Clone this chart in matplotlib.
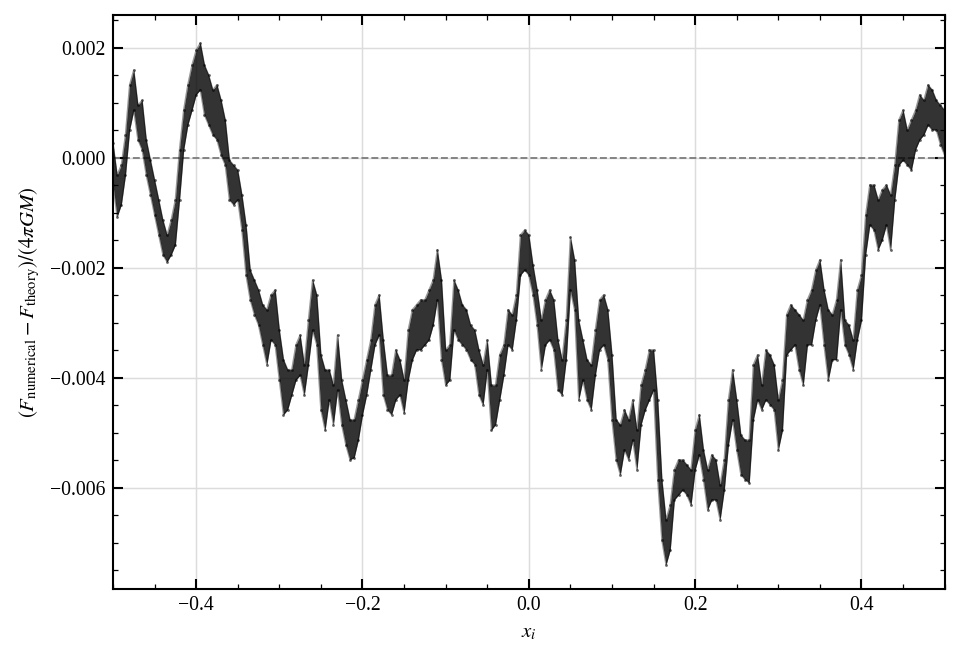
import numpy as np
import matplotlib
matplotlib.use("Agg")
import matplotlib.pyplot as plt
from matplotlib.ticker import MultipleLocator, AutoMinorLocator

# sample positions along x_i (every 0.005) and the band of the residual read off
# the picture at each position, in units of 1e-3
x_pos = np.round(np.arange(-0.5, 0.50001, 0.005), 3)

res_hi_milli = [
    0.27, -0.31, -0.13, 0.42, 1.33, 1.60, 0.96, 1.05, 0.33, -0.04,
    -0.40, -0.76, -1.13, -1.40, -1.13, -0.76, 0.15, 0.87, 1.33, 1.69,
    1.96, 2.09, 1.69, 1.51, 1.24, 1.33, 1.05, 0.69, -0.04, -0.13,
    -0.22, -0.67, -1.22, -2.04, -2.22, -2.40, -2.67, -2.76, -2.49, -2.40,
    -3.13, -3.67, -3.85, -3.85, -3.40, -3.22, -3.76, -2.95, -2.22, -2.49,
    -3.58, -3.85, -3.85, -4.13, -3.22, -4.04, -4.40, -4.76, -4.76, -4.40,
    -4.04, -3.67, -3.31, -2.67, -2.49, -3.31, -3.95, -3.95, -3.49, -3.67,
    -4.04, -3.13, -2.76, -2.67, -2.58, -2.58, -2.40, -2.22, -1.67, -2.22,
    -3.49, -3.40, -2.22, -2.40, -2.67, -2.76, -3.04, -3.13, -3.49, -3.76,
    -3.31, -4.13, -4.13, -3.58, -3.40, -2.76, -2.85, -2.49, -1.40, -1.31,
    -1.40, -1.95, -2.40, -2.95, -2.58, -2.40, -2.58, -3.31, -3.67, -2.95,
    -1.44, -1.85, -2.95, -3.31, -3.67, -3.76, -3.13, -2.58, -2.49, -2.76,
    -3.58, -4.76, -4.85, -4.58, -4.76, -4.40, -4.95, -4.13, -3.85, -3.49,
    -3.49, -4.40, -5.85, -6.58, -6.31, -5.67, -5.49, -5.49, -5.58, -5.67,
    -4.95, -4.67, -5.31, -5.67, -5.40, -5.49, -5.95, -5.49, -4.40, -3.85,
    -4.40, -5.04, -5.13, -5.13, -3.76, -3.58, -4.13, -3.49, -3.58, -3.76,
    -4.40, -4.04, -2.85, -2.67, -2.76, -2.85, -2.95, -2.58, -2.40, -2.04,
    -1.85, -2.40, -2.76, -2.85, -2.58, -1.85, -2.95, -3.04, -3.31, -2.40,
    -2.13, -1.04, -0.49, -0.49, -0.76, -0.58, -0.49, -0.67, -0.13, 0.69,
    0.87, 0.51, 0.69, 0.87, 1.15, 1.05, 1.33, 1.24, 1.05, 0.96,
    0.87,
]

res_lo_milli = [
    -0.49, -1.07, -0.85, -0.31, 0.51, 0.87, 0.33, 0.15, -0.31, -0.67,
    -1.04, -1.40, -1.76, -1.89, -1.76, -1.58, -0.76, 0.15, 0.60, 0.87,
    1.15, 1.24, 0.78, 0.60, 0.42, 0.33, 0.05, -0.13, -0.76, -0.85,
    -0.76, -1.31, -2.13, -2.58, -2.85, -3.04, -3.40, -3.76, -3.31, -3.40,
    -4.04, -4.67, -4.58, -4.31, -4.04, -3.95, -4.31, -3.76, -3.13, -3.40,
    -4.58, -4.95, -4.40, -4.85, -4.22, -4.85, -5.22, -5.49, -5.45, -5.13,
    -4.67, -4.31, -3.85, -3.40, -3.22, -4.31, -4.58, -4.67, -4.40, -4.31,
    -4.64, -4.04, -3.67, -3.49, -3.49, -3.40, -3.31, -3.04, -2.58, -3.67,
    -4.13, -4.04, -3.13, -3.31, -3.40, -3.49, -3.67, -3.76, -4.31, -4.49,
    -3.85, -4.95, -4.85, -4.40, -3.95, -3.40, -3.49, -2.95, -2.13, -2.04,
    -2.13, -2.49, -3.04, -3.85, -3.40, -3.31, -3.49, -4.22, -4.31, -3.67,
    -2.40, -2.76, -4.40, -4.04, -4.40, -4.58, -3.95, -3.49, -3.40, -3.67,
    -4.76, -5.49, -5.76, -5.31, -5.49, -5.13, -5.67, -4.85, -4.58, -4.40,
    -4.22, -5.85, -6.95, -7.40, -7.13, -6.22, -6.13, -6.04, -6.13, -6.31,
    -5.67, -5.40, -5.85, -6.40, -6.22, -6.22, -6.58, -6.04, -5.22, -4.76,
    -5.31, -5.76, -5.85, -5.91, -4.76, -4.40, -4.58, -4.40, -4.49, -4.58,
    -5.31, -4.95, -3.58, -3.49, -3.40, -3.85, -4.13, -3.40, -3.40, -2.95,
    -2.67, -3.40, -4.04, -3.67, -3.67, -2.76, -3.40, -3.58, -3.85, -3.31,
    -2.95, -1.76, -1.22, -1.31, -1.67, -1.49, -1.22, -1.67, -0.76, -0.13,
    -0.04, -0.13, -0.22, 0.15, 0.33, 0.42, 0.60, 0.51, 0.51, 0.24,
    0.05,
]

res_hi = np.array(res_hi_milli) * 1e-3
res_lo = np.array(res_lo_milli) * 1e-3

plt.rcParams["font.family"] = ["Liberation Serif", "DejaVu Serif"]
plt.rcParams["mathtext.fontset"] = "stix"
plt.rcParams["axes.unicode_minus"] = True

fig = plt.figure(figsize=(6.4, 4.4067), dpi=150)
ax = fig.add_axes([0.1177, 0.109, 0.8663, 0.8683])

ax.grid(True, color="#dcdcdc", linewidth=0.7)
ax.set_axisbelow(True)

ax.axhline(0.0, color="gray", linestyle="--", linewidth=0.9, zorder=2)

# noisy band of residuals
ax.fill_between(x_pos, res_lo, res_hi, color="black", alpha=0.8,
                linewidth=0, zorder=3)
ax.plot(x_pos, res_hi, color="black", linewidth=0.7, alpha=0.4, zorder=3)
ax.plot(x_pos, res_lo, color="black", linewidth=0.7, alpha=0.4, zorder=3)
ax.scatter(x_pos, res_hi, s=1.8, color="black", alpha=0.6, linewidths=0, zorder=3)
ax.scatter(x_pos, res_lo, s=1.8, color="black", alpha=0.6, linewidths=0, zorder=3)

ax.set_xlim(-0.5, 0.5)
ax.set_ylim(-0.00784, 0.0026)
ax.xaxis.set_major_locator(MultipleLocator(0.2))
ax.yaxis.set_major_locator(MultipleLocator(0.002))
ax.xaxis.set_minor_locator(AutoMinorLocator(4))
ax.yaxis.set_minor_locator(AutoMinorLocator(4))
ax.tick_params(which="both", direction="in", top=True, right=True, labelsize=9.5)
ax.tick_params(which="major", length=5, width=1.0)
ax.tick_params(which="minor", length=2.5, width=0.6)
for s in ax.spines.values():
    s.set_linewidth(1.0)

ax.set_xlabel(r"$x_i$", fontsize=10)
ax.set_ylabel(r"$(F_{\rm numerical} - F_{\rm theory})/(4\pi GM)$", fontsize=10)

fig.savefig("out.png", dpi=150)
